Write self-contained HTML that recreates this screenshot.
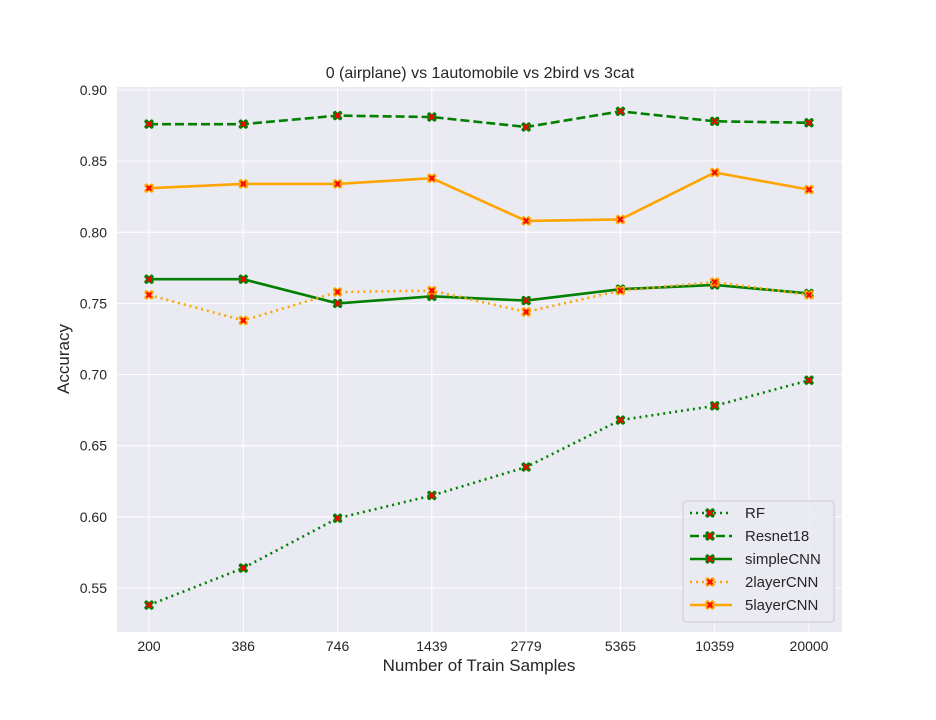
<!DOCTYPE html>
<html><head><meta charset="utf-8"><style>
body{margin:0;background:#fff;}
svg{display:block;font-family:"Liberation Sans","DejaVu Sans",sans-serif;}
</style></head><body>
<svg id="chart" width="936" height="720">
<rect x="117" y="87" width="725" height="545" fill="#eaeaf2"/>
<g id="grid"></g><g id="series"></g><g id="ticks"></g>
<text x="480" y="78" text-anchor="middle" font-size="16" fill="#262626">0 (airplane)  vs 1automobile vs 2bird vs 3cat</text>
<text x="479" y="671" text-anchor="middle" font-size="17" fill="#262626">Number of Train Samples</text>
<text transform="translate(69,359) rotate(-90)" text-anchor="middle" font-size="17" fill="#262626">Accuracy</text>
<g id="legend">
<rect x="683" y="501" width="151" height="121" rx="3" fill="#eaeaf2" fill-opacity="0.8" stroke="#ccc"/>
</g>
</svg>
<script>
const categories=["200","386","746","1439","2779","5365","10359","20000"];
const yTicks=[0.55,0.60,0.65,0.70,0.75,0.80,0.85,0.90];
const seriesNames=["RF","Resnet18","simpleCNN","2layerCNN","5layerCNN"];
const rf=[0.538,0.564,0.599,0.615,0.635,0.668,0.678,0.696];
const resnet18=[0.876,0.876,0.882,0.881,0.874,0.885,0.878,0.877];
const simpleCNN=[0.767,0.767,0.750,0.755,0.752,0.760,0.763,0.757];
const twoLayerCNN=[0.756,0.738,0.758,0.759,0.744,0.759,0.765,0.756];
const fiveLayerCNN=[0.831,0.834,0.834,0.838,0.808,0.809,0.842,0.830];

const NS="http://www.w3.org/2000/svg";
const xPos=i=>149+i*(660/7);
const yPos=v=>90+(0.9-v)/0.05*71.14;
function mk(t,a,p){const e=document.createElementNS(NS,t);for(const k in a)e.setAttribute(k,a[k]);p.appendChild(e);return e;}
const grid=document.getElementById('grid'),ticks=document.getElementById('ticks'),ser=document.getElementById('series'),leg=document.getElementById('legend');
yTicks.forEach(v=>{
 const l=mk('line',{x1:117,x2:842,y1:yPos(v),y2:yPos(v),stroke:'#fff','stroke-width':1},grid);
 
 
 const t=mk('text',{x:107,y:yPos(v)+5,'text-anchor':'end','font-size':14,fill:'#262626'},ticks);
 t.textContent=v.toFixed(2);
 
 
});
categories.forEach((c,i)=>{
 const l=mk('line',{x1:xPos(i),x2:xPos(i),y1:87,y2:632,stroke:'#fff','stroke-width':1},grid);
 
 
 const t=mk('text',{x:xPos(i),y:651,'text-anchor':'middle','font-size':14,fill:'#262626'},ticks);
 t.textContent=c;
 
 
});
const styles=[
 {d:rf,c:'#008000',dash:'2,4',edge:'#008000'},
 {d:resnet18,c:'#008000',dash:'9,4',edge:'#008000'},
 {d:simpleCNN,c:'#008000',dash:'',edge:'#008000'},
 {d:twoLayerCNN,c:'#ffa500',dash:'2,4',edge:'#ffa500'},
 {d:fiveLayerCNN,c:'#ffa500',dash:'',edge:'#ffa500'}];
function marker(x,y,edge,p){
 const g=mk('g',{},p);
 mk('path',{d:`M${x-2.6},${y-2.6}L${x+2.6},${y+2.6}M${x-2.6},${y+2.6}L${x+2.6},${y-2.6}`,stroke:edge,'stroke-width':4,'stroke-linecap':'round'},g);
 mk('path',{d:`M${x-2.4},${y-2.4}L${x+2.4},${y+2.4}M${x-2.4},${y+2.4}L${x+2.4},${y-2.4}`,stroke:'#ff0000','stroke-width':2},g);
 return g;
}
styles.forEach((s,k)=>{
 const pts=s.d.map((v,i)=>xPos(i)+','+yPos(v)).join(' ');
 const pl=mk('polyline',{points:pts,fill:'none',stroke:s.c,'stroke-width':2.6,'stroke-dasharray':s.dash},ser);
 
 
 s.d.forEach((v,i)=>{
  const m=marker(xPos(i),yPos(v),s.edge,ser);
  
  
 });
 const ly=513+k*23;
 const ll=mk('line',{x1:690,x2:732,y1:ly,y2:ly,stroke:s.c,'stroke-width':2.6,'stroke-dasharray':s.dash},leg);
 
 
 marker(710,ly,s.edge,leg);
 const t=mk('text',{x:745,y:ly+5,'font-size':15,fill:'#262626'},leg);
 t.textContent=seriesNames[k];
 
 
});
</script>
</body></html>
